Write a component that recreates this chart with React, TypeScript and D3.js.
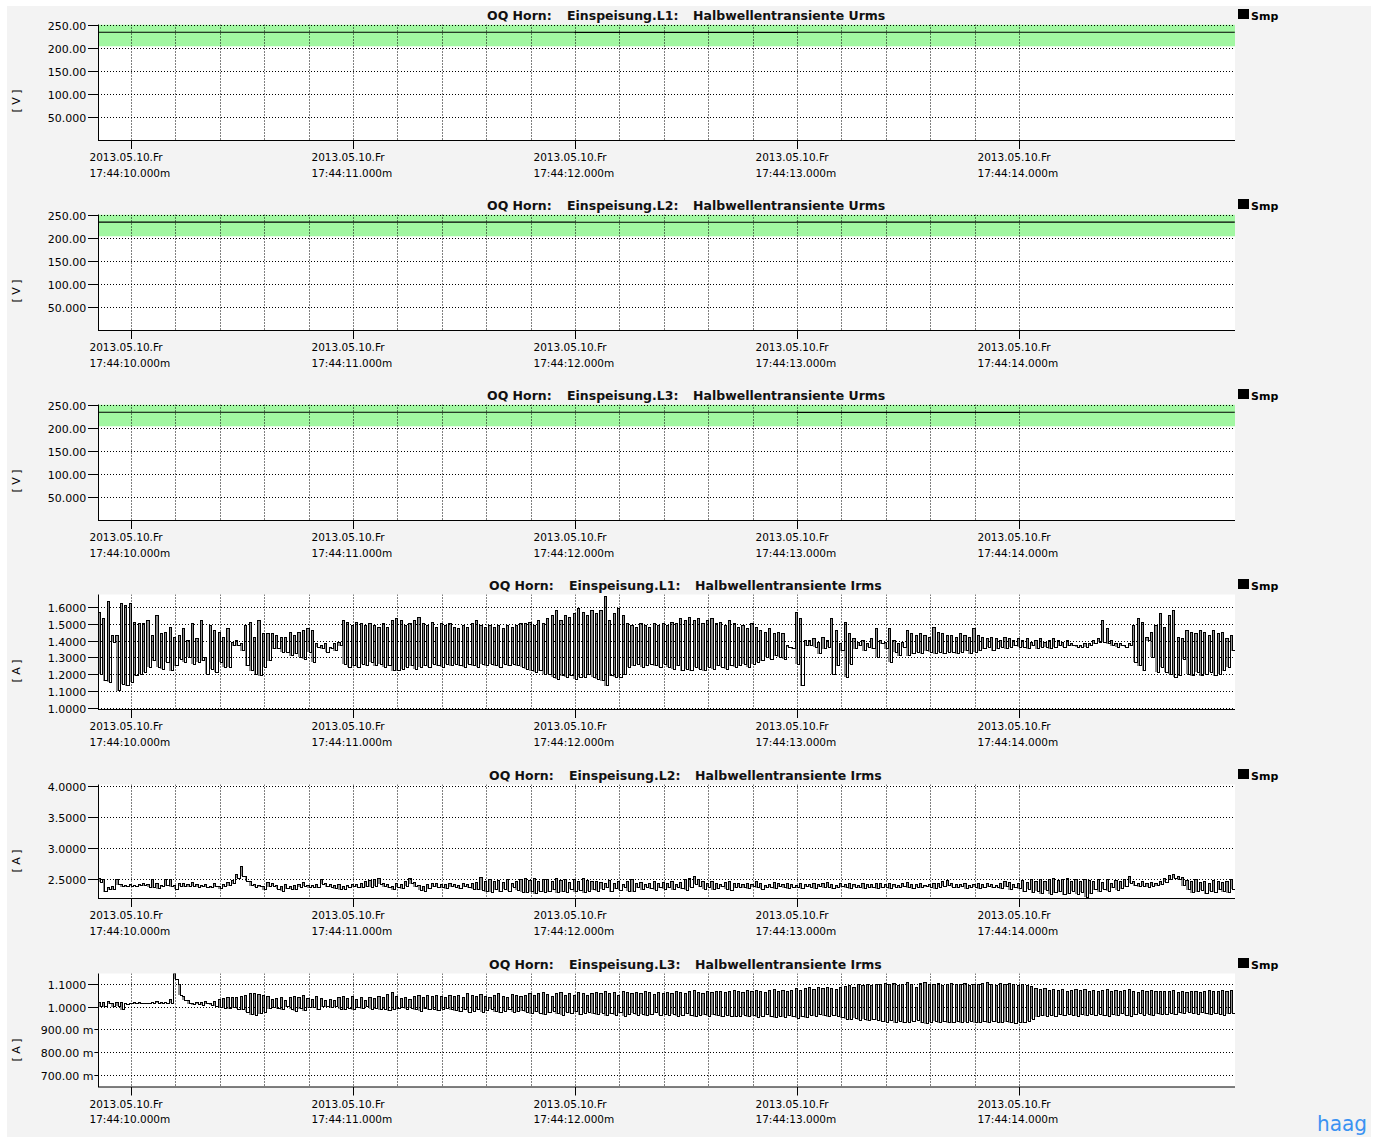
import { useEffect, useRef } from "react"
import * as d3 from "d3"

const WIDTH = 1377
const HEIGHT = 1137
const PLOT_LEFT = 98
const PLOT_RIGHT = 1235
const FONT = "'DejaVu Sans', Verdana, sans-serif"

// time axis, seconds after 17:44:00
const timeDomain = [9.8514, 14.973]
const tickSeconds = [10, 11, 12, 13, 14]
const tickDate = "2013.05.10.Fr"
const tickTimes = ["17:44:10.000m", "17:44:11.000m", "17:44:12.000m", "17:44:13.000m", "17:44:14.000m"]
const gridStart = 10
const gridEnd = 14
const gridStep = 0.2

// half-wave samples (100 per second)
const sampleStart = 9.852
const halfWave = 0.01

// voltage panels
const voltTicks = [50, 100, 150, 200, 250]
const voltTickLabels = ["50.000", "100.00", "150.00", "200.00", "250.00"]
const voltBand = [204, 253]
const urmsTimes = [9.852, 11, 12, 13, 14, 14.972]
const urmsL1 = [234.3, 234.3, 234.2, 234.3, 234.3, 234.3]
const urmsL2 = [234.4, 234.4, 234.3, 234.4, 234.4, 234.4]
const urmsL3 = [234.3, 234.3, 234.3, 234.2, 234.3, 234.3]

// current panels
const irmsL1Ticks = [1.0, 1.1, 1.2, 1.3, 1.4, 1.5, 1.6]
const irmsL1TickLabels = ["1.0000", "1.1000", "1.2000", "1.3000", "1.4000", "1.5000", "1.6000"]
const irmsL2Ticks = [2.5, 3.0, 3.5, 4.0]
const irmsL2TickLabels = ["2.5000", "3.0000", "3.5000", "4.0000"]
const irmsL3Ticks = [0.7, 0.8, 0.9, 1.0, 1.1]
const irmsL3TickLabels = ["700.00 m", "800.00 m", "900.00 m", "1.0000", "1.1000"]

// Irms L1: first / second half-wave of each cycle
const irmsL1Hi = [
  1.57, 1.53, 1.63, 1.43, 1.43, 1.62, 1.61, 1.62, 1.51, 1.50, 1.50, 1.52, 1.43, 1.55, 1.44, 1.45,
  1.48, 1.42, 1.43, 1.47, 1.40, 1.50, 1.41, 1.52, 1.30, 1.49, 1.46, 1.45, 1.42, 1.47, 1.39, 1.40,
  1.38, 1.49, 1.51, 1.42, 1.52, 1.44, 1.44, 1.44, 1.43, 1.42, 1.42, 1.45, 1.43, 1.45, 1.46, 1.47,
  1.46, 1.38, 1.37, 1.38, 1.36, 1.38, 1.39, 1.52, 1.51, 1.49, 1.51, 1.50, 1.49, 1.50, 1.49, 1.48,
  1.50, 1.48, 1.52, 1.53, 1.52, 1.49, 1.50, 1.52, 1.54, 1.50, 1.49, 1.51, 1.48, 1.50, 1.49, 1.50,
  1.48, 1.47, 1.49, 1.48, 1.50, 1.52, 1.49, 1.48, 1.49, 1.48, 1.49, 1.47, 1.49, 1.48, 1.49, 1.50,
  1.50, 1.51, 1.49, 1.52, 1.50, 1.53, 1.55, 1.58, 1.52, 1.55, 1.54, 1.56, 1.59, 1.57, 1.55, 1.58,
  1.56, 1.58, 1.66, 1.52, 1.56, 1.59, 1.55, 1.50, 1.49, 1.48, 1.50, 1.49, 1.48, 1.50, 1.49, 1.50,
  1.49, 1.51, 1.50, 1.53, 1.52, 1.54, 1.52, 1.53, 1.50, 1.52, 1.53, 1.50, 1.51, 1.49, 1.52, 1.50,
  1.48, 1.49, 1.47, 1.50, 1.48, 1.46, 1.45, 1.47, 1.44, 1.45, 1.44, 1.37, 1.36, 1.57, 1.53, 1.40,
  1.40, 1.41, 1.39, 1.42, 1.40, 1.53, 1.46, 1.38, 1.51, 1.44, 1.41, 1.39, 1.40, 1.38, 1.41, 1.47,
  1.40, 1.39, 1.47, 1.40, 1.38, 1.39, 1.46, 1.44, 1.43, 1.44, 1.43, 1.42, 1.48, 1.45, 1.44, 1.43,
  1.43, 1.42, 1.44, 1.43, 1.42, 1.47, 1.43, 1.42, 1.41, 1.42, 1.41, 1.40, 1.42, 1.41, 1.40, 1.41,
  1.40, 1.41, 1.39, 1.40, 1.41, 1.39, 1.40, 1.41, 1.40, 1.39, 1.40, 1.38, 1.37, 1.37, 1.38, 1.38,
  1.40, 1.41, 1.52, 1.47, 1.40, 1.38, 1.38, 1.37, 1.38, 1.49, 1.53, 1.51, 1.42, 1.45, 1.49, 1.56,
  1.48, 1.55, 1.58, 1.42, 1.41, 1.46, 1.45, 1.44, 1.46, 1.45, 1.43, 1.46, 1.44, 1.45, 1.41, 1.43,
]
const irmsL1Lo = [
  1.20, 1.16, 1.15, 1.39, 1.10, 1.14, 1.13, 1.15, 1.19, 1.20, 1.21, 1.24, 1.28, 1.24, 1.23, 1.27,
  1.22, 1.25, 1.29, 1.27, 1.30, 1.26, 1.27, 1.28, 1.20, 1.23, 1.21, 1.27, 1.24, 1.24, 1.37, 1.37,
  1.34, 1.25, 1.22, 1.20, 1.19, 1.24, 1.28, 1.35, 1.35, 1.33, 1.33, 1.31, 1.32, 1.30, 1.29, 1.33,
  1.27, 1.36, 1.35, 1.33, 1.35, 1.34, 1.37, 1.26, 1.24, 1.25, 1.24, 1.26, 1.25, 1.27, 1.25, 1.26,
  1.24, 1.25, 1.22, 1.22, 1.23, 1.24, 1.25, 1.23, 1.24, 1.25, 1.24, 1.26, 1.25, 1.24, 1.26, 1.25,
  1.26, 1.25, 1.24, 1.26, 1.25, 1.24, 1.26, 1.25, 1.26, 1.25, 1.24, 1.26, 1.25, 1.26, 1.25, 1.24,
  1.23, 1.22, 1.21, 1.22, 1.20, 1.20, 1.18, 1.17, 1.19, 1.18, 1.19, 1.17, 1.18, 1.18, 1.20, 1.18,
  1.17, 1.16, 1.13, 1.19, 1.18, 1.18, 1.20, 1.24, 1.25, 1.26, 1.24, 1.25, 1.26, 1.25, 1.24, 1.26,
  1.24, 1.23, 1.25, 1.22, 1.23, 1.22, 1.24, 1.23, 1.22, 1.24, 1.23, 1.25, 1.24, 1.23, 1.25, 1.24,
  1.25, 1.26, 1.24, 1.26, 1.27, 1.28, 1.30, 1.29, 1.31, 1.30, 1.29, 1.36, 1.35, 1.26, 1.13, 1.37,
  1.37, 1.36, 1.32, 1.35, 1.36, 1.20, 1.25, 1.34, 1.18, 1.26, 1.35, 1.37, 1.34, 1.36, 1.35, 1.30,
  1.38, 1.35, 1.27, 1.33, 1.31, 1.36, 1.31, 1.32, 1.33, 1.32, 1.34, 1.33, 1.32, 1.33, 1.32, 1.33,
  1.33, 1.32, 1.33, 1.34, 1.32, 1.33, 1.34, 1.35, 1.36, 1.34, 1.35, 1.36, 1.35, 1.36, 1.37, 1.36,
  1.36, 1.35, 1.37, 1.35, 1.36, 1.36, 1.35, 1.36, 1.37, 1.36, 1.37, 1.37, 1.36, 1.36, 1.36, 1.37,
  1.38, 1.39, 1.39, 1.38, 1.37, 1.36, 1.37, 1.36, 1.37, 1.27, 1.25, 1.22, 1.40, 1.30, 1.21, 1.24,
  1.21, 1.20, 1.18, 1.19, 1.29, 1.20, 1.19, 1.21, 1.19, 1.20, 1.21, 1.19, 1.20, 1.22, 1.24, 1.34,
]

// Irms L2
const irmsL2Hi = [
  2.52, 2.49, 2.36, 2.38, 2.49, 2.41, 2.40, 2.42, 2.40, 2.41, 2.43, 2.41, 2.49, 2.44, 2.40, 2.50,
  2.49, 2.40, 2.43, 2.44, 2.42, 2.45, 2.41, 2.40, 2.42, 2.39, 2.44, 2.38, 2.42, 2.45, 2.48, 2.57,
  2.70, 2.55, 2.46, 2.41, 2.40, 2.39, 2.45, 2.44, 2.40, 2.38, 2.41, 2.39, 2.40, 2.42, 2.45, 2.40,
  2.40, 2.41, 2.49, 2.44, 2.42, 2.40, 2.41, 2.39, 2.40, 2.42, 2.41, 2.44, 2.46, 2.48, 2.49, 2.52,
  2.43, 2.41, 2.39, 2.44, 2.42, 2.47, 2.52, 2.45, 2.40, 2.38, 2.42, 2.44, 2.43, 2.41, 2.42, 2.44,
  2.42, 2.40, 2.43, 2.41, 2.44, 2.45, 2.53, 2.47, 2.50, 2.46, 2.48, 2.45, 2.50, 2.44, 2.47, 2.49,
  2.51, 2.48, 2.52, 2.47, 2.50, 2.49, 2.46, 2.51, 2.48, 2.50, 2.45, 2.49, 2.47, 2.52, 2.48, 2.46,
  2.47, 2.45, 2.43, 2.48, 2.44, 2.46, 2.42, 2.47, 2.49, 2.43, 2.45, 2.42, 2.44, 2.46, 2.43, 2.45,
  2.44, 2.46, 2.42, 2.45, 2.49, 2.52, 2.55, 2.50, 2.47, 2.43, 2.46, 2.44, 2.42, 2.45, 2.47, 2.44,
  2.43, 2.41, 2.44, 2.42, 2.46, 2.43, 2.40, 2.42, 2.45, 2.43, 2.41, 2.44, 2.42, 2.40, 2.43, 2.42,
  2.42, 2.44, 2.41, 2.43, 2.45, 2.42, 2.40, 2.43, 2.41, 2.44, 2.42, 2.40, 2.43, 2.42, 2.41, 2.44,
  2.43, 2.41, 2.44, 2.42, 2.40, 2.43, 2.45, 2.42, 2.41, 2.43, 2.40, 2.42, 2.44, 2.43, 2.46, 2.48,
  2.44, 2.42, 2.41, 2.43, 2.40, 2.42, 2.44, 2.41, 2.43, 2.42, 2.40, 2.44, 2.46, 2.45, 2.42, 2.44,
  2.48, 2.45, 2.49, 2.47, 2.50, 2.46, 2.49, 2.51, 2.48, 2.50, 2.52, 2.47, 2.49, 2.46, 2.50, 2.48,
  2.47, 2.50, 2.45, 2.49, 2.44, 2.48, 2.46, 2.50, 2.55, 2.47, 2.44, 2.46, 2.43, 2.45, 2.44, 2.47,
  2.52, 2.56, 2.58, 2.55, 2.53, 2.48, 2.46, 2.49, 2.45, 2.47, 2.44, 2.48, 2.46, 2.45, 2.47, 2.50,
]
const irmsL2Lo = [
  2.45, 2.30, 2.33, 2.33, 2.41, 2.38, 2.38, 2.39, 2.39, 2.40, 2.40, 2.37, 2.36, 2.35, 2.38, 2.40,
  2.38, 2.34, 2.39, 2.38, 2.38, 2.39, 2.37, 2.38, 2.37, 2.36, 2.38, 2.35, 2.38, 2.40, 2.43, 2.52,
  2.55, 2.47, 2.40, 2.37, 2.38, 2.33, 2.38, 2.39, 2.34, 2.31, 2.35, 2.34, 2.33, 2.37, 2.39, 2.36,
  2.37, 2.36, 2.42, 2.38, 2.37, 2.35, 2.33, 2.34, 2.37, 2.38, 2.37, 2.36, 2.38, 2.37, 2.39, 2.42,
  2.38, 2.36, 2.33, 2.37, 2.35, 2.39, 2.43, 2.38, 2.32, 2.31, 2.35, 2.38, 2.37, 2.36, 2.35, 2.38,
  2.37, 2.35, 2.38, 2.36, 2.34, 2.33, 2.32, 2.30, 2.29, 2.33, 2.30, 2.34, 2.31, 2.37, 2.32, 2.29,
  2.28, 2.30, 2.27, 2.31, 2.29, 2.30, 2.33, 2.28, 2.30, 2.29, 2.34, 2.30, 2.32, 2.28, 2.31, 2.33,
  2.31, 2.34, 2.36, 2.30, 2.35, 2.32, 2.37, 2.31, 2.30, 2.36, 2.33, 2.37, 2.35, 2.32, 2.36, 2.34,
  2.36, 2.33, 2.37, 2.35, 2.32, 2.37, 2.42, 2.38, 2.34, 2.37, 2.33, 2.35, 2.38, 2.34, 2.32, 2.36,
  2.37, 2.36, 2.35, 2.38, 2.36, 2.34, 2.36, 2.37, 2.35, 2.38, 2.36, 2.35, 2.37, 2.36, 2.35, 2.38,
  2.37, 2.35, 2.38, 2.36, 2.37, 2.35, 2.36, 2.38, 2.36, 2.35, 2.37, 2.36, 2.35, 2.37, 2.36, 2.35,
  2.36, 2.37, 2.35, 2.37, 2.36, 2.38, 2.36, 2.35, 2.37, 2.36, 2.38, 2.37, 2.35, 2.37, 2.39, 2.40,
  2.37, 2.36, 2.38, 2.35, 2.36, 2.37, 2.35, 2.36, 2.38, 2.36, 2.37, 2.35, 2.38, 2.33, 2.36, 2.35,
  2.30, 2.34, 2.28, 2.31, 2.27, 2.32, 2.26, 2.28, 2.30, 2.25, 2.27, 2.31, 2.26, 2.29, 2.21, 2.27,
  2.33, 2.30, 2.34, 2.31, 2.36, 2.32, 2.35, 2.38, 2.44, 2.40, 2.38, 2.39, 2.37, 2.39, 2.40, 2.41,
  2.45, 2.50, 2.52, 2.49, 2.40, 2.33, 2.28, 2.30, 2.32, 2.27, 2.31, 2.29, 2.33, 2.30, 2.28, 2.34,
]

// Irms L3
const irmsL3Hi = [
  1.019, 1.018, 1.020, 1.015, 1.019, 1.017, 1.013, 1.015, 1.016, 1.018, 1.014, 1.015, 1.016, 1.022, 1.018, 1.019,
  1.030, 1.143, 1.095, 1.045, 1.025, 1.015, 1.016, 1.018, 1.020, 1.015, 1.022, 1.030, 1.035, 1.038, 1.040, 1.038,
  1.045, 1.050, 1.055, 1.058, 1.052, 1.048, 1.042, 1.030, 1.035, 1.040, 1.025, 1.038, 1.045, 1.040, 1.048, 1.035,
  1.030, 1.045, 1.035, 1.025, 1.030, 1.028, 1.040, 1.045, 1.035, 1.042, 1.030, 1.038, 1.025, 1.040, 1.035, 1.045,
  1.040, 1.052, 1.060, 1.045, 1.035, 1.040, 1.030, 1.045, 1.050, 1.040, 1.048, 1.042, 1.050, 1.045, 1.040, 1.048,
  1.045, 1.050, 1.040, 1.055, 1.048, 1.042, 1.052, 1.045, 1.038, 1.050, 1.055, 1.045, 1.040, 1.052, 1.048, 1.045,
  1.050, 1.058, 1.048, 1.055, 1.060, 1.052, 1.045, 1.058, 1.062, 1.050, 1.055, 1.048, 1.060, 1.055, 1.050, 1.058,
  1.060, 1.055, 1.065, 1.058, 1.062, 1.050, 1.068, 1.060, 1.055, 1.063, 1.058, 1.065, 1.060, 1.052, 1.062, 1.058,
  1.062, 1.058, 1.066, 1.060, 1.055, 1.065, 1.070, 1.062, 1.058, 1.066, 1.060, 1.064, 1.068, 1.060, 1.065, 1.070,
  1.068, 1.062, 1.070, 1.065, 1.072, 1.066, 1.060, 1.070, 1.075, 1.068, 1.072, 1.065, 1.070, 1.078, 1.072, 1.080,
  1.082, 1.075, 1.085, 1.078, 1.083, 1.080, 1.075, 1.085, 1.088, 1.092, 1.085, 1.095, 1.090, 1.098, 1.092, 1.095,
  1.098, 1.102, 1.095, 1.100, 1.092, 1.098, 1.105, 1.096, 1.085, 1.100, 1.107, 1.095, 1.098, 1.102, 1.090, 1.098,
  1.100, 1.095, 1.098, 1.102, 1.092, 1.098, 1.095, 1.100, 1.105, 1.098, 1.092, 1.100, 1.096, 1.102, 1.098, 1.094,
  1.098, 1.092, 1.088, 1.080, 1.075, 1.078, 1.072, 1.076, 1.070, 1.074, 1.068, 1.072, 1.076, 1.070, 1.074, 1.068,
  1.072, 1.066, 1.070, 1.075, 1.068, 1.072, 1.065, 1.070, 1.074, 1.068, 1.062, 1.070, 1.066, 1.072, 1.064, 1.068,
  1.068, 1.064, 1.070, 1.062, 1.066, 1.060, 1.064, 1.068, 1.062, 1.066, 1.070, 1.064, 1.068, 1.072, 1.066, 1.070,
]
const irmsL3Lo = [
  1.000, 0.998, 1.012, 0.998, 1.002, 0.985, 1.010, 1.012, 1.013, 1.012, 1.013, 1.012, 1.014, 1.014, 1.013, 1.015,
  1.015, 1.120, 1.050, 1.028, 1.012, 1.008, 1.010, 1.005, 1.012, 1.006, 1.002, 0.995, 0.992, 0.990, 0.995, 0.988,
  0.985, 0.975, 0.965, 0.962, 0.968, 0.975, 0.990, 0.995, 0.990, 0.985, 1.000, 0.988, 0.980, 0.990, 0.982, 0.995,
  0.995, 0.985, 0.998, 1.000, 0.995, 0.998, 0.988, 0.985, 0.992, 0.985, 0.995, 0.990, 1.000, 0.988, 0.990, 0.985,
  0.988, 0.982, 0.985, 0.990, 0.995, 0.988, 0.992, 0.985, 0.980, 0.990, 0.985, 0.988, 0.982, 0.988, 0.990, 0.985,
  0.982, 0.978, 0.985, 0.975, 0.980, 0.986, 0.976, 0.982, 0.988, 0.978, 0.972, 0.980, 0.985, 0.975, 0.978, 0.982,
  0.975, 0.968, 0.978, 0.970, 0.965, 0.972, 0.980, 0.968, 0.962, 0.975, 0.970, 0.978, 0.965, 0.970, 0.975, 0.968,
  0.965, 0.970, 0.960, 0.968, 0.962, 0.972, 0.958, 0.965, 0.970, 0.962, 0.966, 0.960, 0.964, 0.972, 0.962, 0.966,
  0.962, 0.966, 0.958, 0.962, 0.968, 0.960, 0.955, 0.962, 0.965, 0.958, 0.963, 0.960, 0.956, 0.962, 0.958, 0.955,
  0.958, 0.962, 0.955, 0.960, 0.952, 0.958, 0.964, 0.955, 0.950, 0.958, 0.954, 0.960, 0.955, 0.948, 0.955, 0.950,
  0.962, 0.958, 0.965, 0.960, 0.955, 0.962, 0.958, 0.950, 0.945, 0.942, 0.948, 0.940, 0.944, 0.938, 0.942, 0.940,
  0.935, 0.932, 0.938, 0.930, 0.935, 0.928, 0.932, 0.936, 0.940, 0.930, 0.925, 0.932, 0.935, 0.928, 0.934, 0.930,
  0.930, 0.934, 0.928, 0.932, 0.936, 0.930, 0.928, 0.934, 0.930, 0.935, 0.932, 0.928, 0.934, 0.930, 0.926, 0.932,
  0.928, 0.935, 0.945, 0.955, 0.960, 0.958, 0.962, 0.958, 0.964, 0.960, 0.966, 0.962, 0.958, 0.964, 0.960, 0.966,
  0.962, 0.966, 0.960, 0.958, 0.964, 0.960, 0.968, 0.962, 0.958, 0.964, 0.970, 0.962, 0.966, 0.960, 0.968, 0.964,
  0.966, 0.970, 0.964, 0.972, 0.968, 0.974, 0.970, 0.966, 0.972, 0.968, 0.964, 0.970, 0.966, 0.962, 0.968, 0.970,
]

type Panel = {
  phase: string
  quantity: string
  unit: string
  top: number
  bottom: number
  domain: [number, number]
  ticks: number[]
  tickLabels: string[]
  titleX: number[]
  urms?: number[]
  hi?: number[]
  lo?: number[]
}

const panels: Panel[] = [
  { phase: "L1", quantity: "Urms", unit: "[ V ]", top: 24.5, bottom: 140.5, domain: [0, 251.1], ticks: voltTicks, tickLabels: voltTickLabels, titleX: [487, 567, 693], urms: urmsL1 },
  { phase: "L2", quantity: "Urms", unit: "[ V ]", top: 214.5, bottom: 330.5, domain: [0, 251.1], ticks: voltTicks, tickLabels: voltTickLabels, titleX: [487, 567, 693], urms: urmsL2 },
  { phase: "L3", quantity: "Urms", unit: "[ V ]", top: 404.5, bottom: 520.5, domain: [0, 251.1], ticks: voltTicks, tickLabels: voltTickLabels, titleX: [487, 567, 693], urms: urmsL3 },
  { phase: "L1", quantity: "Irms", unit: "[ A ]", top: 594.5, bottom: 709.5, domain: [0.989, 1.6745], ticks: irmsL1Ticks, tickLabels: irmsL1TickLabels, titleX: [489, 569, 695], hi: irmsL1Hi, lo: irmsL1Lo },
  { phase: "L2", quantity: "Irms", unit: "[ A ]", top: 784.5, bottom: 898.5, domain: [2.191, 4.024], ticks: irmsL2Ticks, tickLabels: irmsL2TickLabels, titleX: [489, 569, 695], hi: irmsL2Hi, lo: irmsL2Lo },
  { phase: "L3", quantity: "Irms", unit: "[ A ]", top: 973.5, bottom: 1087, domain: [0.6474, 1.1447], ticks: irmsL3Ticks, tickLabels: irmsL3TickLabels, titleX: [489, 569, 695], hi: irmsL3Hi, lo: irmsL3Lo },
]

const App = () => {
  const svgRef = useRef<SVGSVGElement>(null)

  useEffect(() => {
    const svg = d3.select(svgRef.current)
    svg.selectAll("*").remove()

    const x = d3.scaleLinear().domain(timeDomain).range([PLOT_LEFT, PLOT_RIGHT])
    const gridTimes = d3.range(gridStart, gridEnd + 0.001, gridStep)

    // page background
    svg.append("rect").attr("width", WIDTH).attr("height", HEIGHT).attr("fill", "#fff")
    svg.append("rect").attr("x", 7).attr("y", 6).attr("width", 1364).attr("height", HEIGHT - 6).attr("fill", "#f3f3f3")

    panels.forEach((p, pi) => {
      const y = d3.scaleLinear().domain(p.domain).range([p.bottom, p.top])
      const g = svg.append("g")
      const clipId = `plot-clip-${pi}`

      g.append("clipPath")
        .attr("id", clipId)
        .append("rect")
        .attr("x", PLOT_LEFT)
        .attr("y", p.top)
        .attr("width", PLOT_RIGHT - PLOT_LEFT)
        .attr("height", p.bottom - p.top)

      g.append("rect")
        .attr("x", PLOT_LEFT)
        .attr("y", p.top)
        .attr("width", PLOT_RIGHT - PLOT_LEFT)
        .attr("height", p.bottom - p.top)
        .attr("fill", "#fff")

      const plot = g.append("g").attr("clip-path", `url(#${clipId})`)

      if (p.urms) {
        // tolerance band
        plot
          .append("rect")
          .attr("x", PLOT_LEFT)
          .attr("y", y(Math.min(voltBand[1], p.domain[1])))
          .attr("width", PLOT_RIGHT - PLOT_LEFT)
          .attr("height", y(voltBand[0]) - y(Math.min(voltBand[1], p.domain[1])))
          .attr("fill", "#a2f7a2")
      }

      if (p.hi && p.lo) {
        const lo = p.lo
        const cycles = p.hi.map((h, i) => ({ t: sampleStart + 2 * i * halfWave, hi: h, lo: lo[i] }))

        // filled first half-waves
        plot
          .selectAll(".hw")
          .data(cycles)
          .enter()
          .append("rect")
          .attr("class", "hw")
          .attr("x", (d) => x(d.t))
          .attr("width", (d) => x(d.t + halfWave) - x(d.t))
          .attr("y", (d) => y(Math.max(d.hi, d.lo)))
          .attr("height", (d) => Math.abs(y(d.lo) - y(d.hi)))
          .attr("fill", "#8e8e8e")
          .attr("shape-rendering", "crispEdges")

        const pts: [number, number][] = []
        cycles.forEach((c) => {
          pts.push([c.t, c.hi])
          pts.push([c.t + halfWave, c.lo])
        })
        pts.push([sampleStart + 2 * cycles.length * halfWave, lo[lo.length - 1]])

        plot
          .append("path")
          .attr(
            "d",
            d3
              .line<[number, number]>()
              .x((d) => x(d[0]))
              .y((d) => y(d[1]))
              .curve(d3.curveStepAfter)(pts)
          )
          .attr("fill", "none")
          .attr("stroke", "#000")
          .attr("stroke-width", 1)
          .attr("shape-rendering", "crispEdges")
      }

      // grid
      plot
        .selectAll(".hgrid")
        .data(p.ticks)
        .enter()
        .append("line")
        .attr("x1", PLOT_LEFT)
        .attr("x2", PLOT_RIGHT)
        .attr("y1", (d) => Math.round(y(d)) + 0.5)
        .attr("y2", (d) => Math.round(y(d)) + 0.5)
        .attr("stroke", "#000")
        .attr("stroke-dasharray", "1,2")
        .attr("stroke-width", 1)

      plot
        .selectAll(".vgrid")
        .data(gridTimes)
        .enter()
        .append("line")
        .attr("x1", (d) => Math.round(x(d)) + 0.5)
        .attr("x2", (d) => Math.round(x(d)) + 0.5)
        .attr("y1", p.top)
        .attr("y2", p.bottom)
        .attr("stroke", "#000")
        .attr("stroke-dasharray", "1,2")
        .attr("stroke-width", 1)

      if (p.urms) {
        const pts = p.urms.map((v, i) => [urmsTimes[i], v] as [number, number])
        plot
          .append("path")
          .attr(
            "d",
            d3
              .line<[number, number]>()
              .x((d) => x(d[0]))
              .y((d) => y(d[1]))
              .curve(d3.curveStepAfter)(pts)
          )
          .attr("fill", "none")
          .attr("stroke", "#000")
          .attr("stroke-width", 1.2)
      }

      // axes
      g.append("line")
        .attr("x1", PLOT_LEFT + 0.5)
        .attr("x2", PLOT_LEFT + 0.5)
        .attr("y1", p.top)
        .attr("y2", p.bottom)
        .attr("stroke", "#000")
      g.append("line")
        .attr("x1", PLOT_LEFT)
        .attr("x2", PLOT_RIGHT)
        .attr("y1", p.bottom)
        .attr("y2", p.bottom)
        .attr("stroke", "#000")
        .attr("stroke-width", 1.2)

      // y ticks
      p.ticks.forEach((v, i) => {
        const ty = Math.round(y(v)) + 0.5
        const label = g
          .append("text")
          .attr("x", 67)
          .attr("y", ty + 4)
          .attr("text-anchor", "middle")
          .style("font-family", FONT)
          .style("font-size", "11px")
          .attr("fill", "#000")
          .text(p.tickLabels[i])
        const node = label.node() as SVGTextElement
        const w = node.getComputedTextLength()
        g.append("line")
          .attr("x1", Math.max(88, 67 + w / 2 + 1))
          .attr("x2", PLOT_LEFT)
          .attr("y1", ty)
          .attr("y2", ty)
          .attr("stroke", "#000")
      })

      // x ticks
      tickSeconds.forEach((s, i) => {
        const tx = Math.round(x(s)) + 0.5
        g.append("line")
          .attr("x1", tx)
          .attr("x2", tx)
          .attr("y1", p.bottom)
          .attr("y2", p.bottom + 8.5)
          .attr("stroke", "#000")
        g.append("text")
          .attr("x", tx - 42)
          .attr("y", p.bottom + 20.5)
          .style("font-family", FONT)
          .style("font-size", "10.5px")
          .attr("fill", "#000")
          .text(tickDate)
        g.append("text")
          .attr("x", tx - 42)
          .attr("y", p.bottom + 36)
          .style("font-family", FONT)
          .style("font-size", "10.5px")
          .attr("fill", "#000")
          .text(tickTimes[i])
      })

      // unit label
      g.append("text")
        .attr("transform", `translate(19.5,${p.top + 76.5}) rotate(-90)`)
        .attr("text-anchor", "middle")
        .style("font-family", FONT)
        .style("font-size", "11px")
        .attr("fill", "#000")
        .text(p.unit)

      // title
      const titleParts = ["OQ Horn:", `Einspeisung.${p.phase}:`, `Halbwellentransiente ${p.quantity}`]
      titleParts.forEach((t, i) => {
        g.append("text")
          .attr("x", p.titleX[i])
          .attr("y", p.top - 4.5)
          .style("font-family", FONT)
          .style("font-size", "12.5px")
          .style("font-weight", "bold")
          .attr("fill", "#111")
          .text(t)
      })

      // legend
      g.append("rect")
        .attr("x", 1238)
        .attr("y", p.top - 15.5)
        .attr("width", 11)
        .attr("height", 10)
        .attr("fill", "#000")
      g.append("text")
        .attr("x", 1251)
        .attr("y", p.top - 5)
        .style("font-family", FONT)
        .style("font-size", "11px")
        .style("font-weight", "bold")
        .attr("fill", "#000")
        .text("Smp")
    })

    // logo
    svg
      .append("text")
      .attr("x", 1317)
      .attr("y", 1131)
      .attr("textLength", 50)
      .attr("lengthAdjust", "spacingAndGlyphs")
      .style("font-family", FONT)
      .style("font-size", "21px")
      .attr("fill", "#3a92f2")
      .text("haag")
  }, [])

  return (
    <svg
      ref={svgRef}
      width={WIDTH}
      height={HEIGHT}
      style={{ position: "absolute", left: 0, top: 0, display: "block" }}
    ></svg>
  )
}

export default App
